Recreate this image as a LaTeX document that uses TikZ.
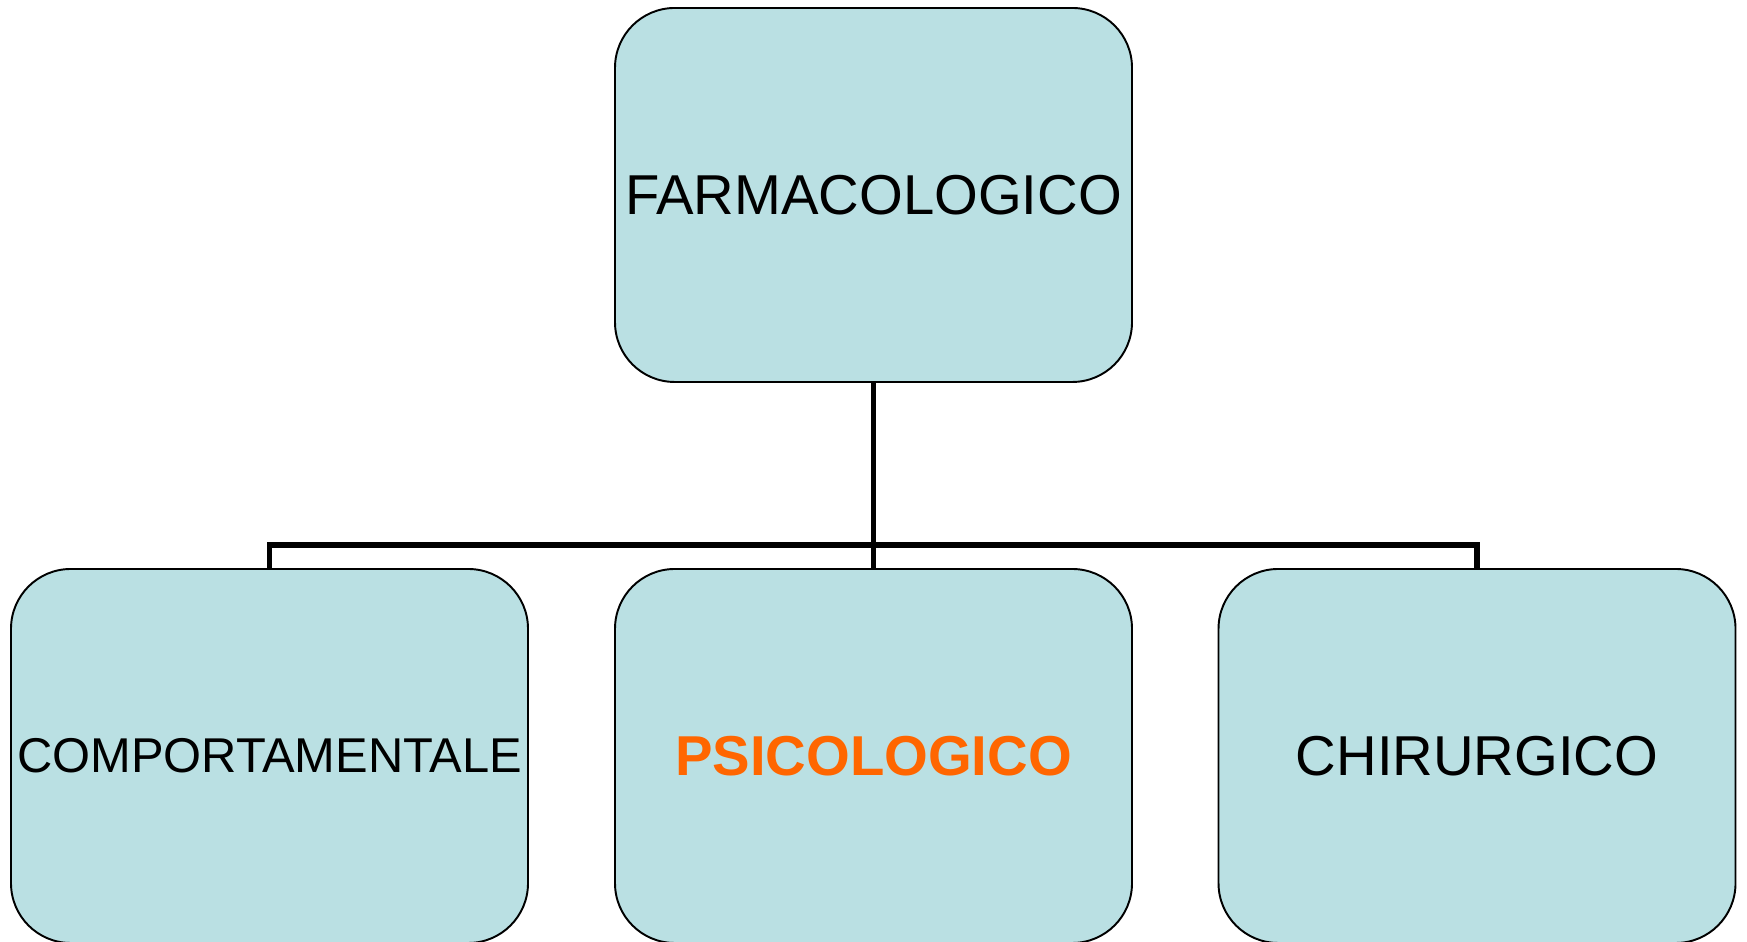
\documentclass[tikz,border=0pt]{standalone}
\usepackage{fontspec}
\setmainfont{Liberation Sans}
\usetikzlibrary{positioning, calc}
\definecolor{boxFill}{HTML}{BAE0E3}
\definecolor{hiOrange}{HTML}{FF6600}
\tikzset{
  tbox/.style={rounded corners=17pt, draw=black, line width=0.55pt,
    fill=boxFill, minimum width=5.17cm, minimum height=3.74cm,
    align=center, inner sep=0pt, font=\fontsize{16}{19}\selectfont},
  smallbox/.style={tbox, font=\fontsize{13.9}{16}\selectfont},
  hibox/.style={tbox, text=hiOrange, font=\fontsize{16}{19}\selectfont\bfseries},
  link/.style={line width=1.6pt, draw=black},
}
\begin{document}
\begin{tikzpicture}

  \useasboundingbox (0,0) rectangle (17.47,9.42);

  % ---- Nodes -------------------------------------------------------------
  \node[tbox]     (farm) at (8.735,7.47) {FARMACOLOGICO};
  \node[smallbox] (comp) at (2.695,1.86) {COMPORTAMENTALE};
  \node[hibox]    (psic) at (8.735,1.86) {PSICOLOGICO};
  \node[tbox]     (chir) at (14.77,1.86) {CHIRURGICO};

  \coordinate (bus) at (8.735,3.97);

  % ---- Edges -------------------------------------------------------------
  \draw[link] (farm.south) -- (psic.north);
  \draw[link] (comp.north) |- (bus) -| (chir.north);

\end{tikzpicture}
\end{document}
